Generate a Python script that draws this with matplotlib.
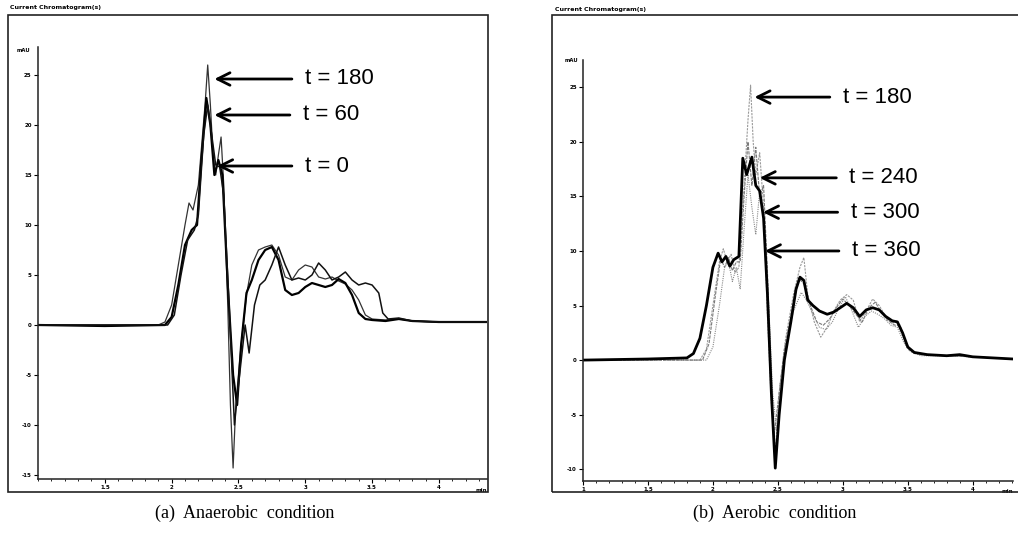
import matplotlib
matplotlib.use("Agg")
import matplotlib.pyplot as plt
from matplotlib.patches import Rectangle
from matplotlib.ticker import MultipleLocator

# ---- data (time in min, signal in mAU) ----
# (a) anaerobic condition
a_t180_x = [1.0, 1.5, 1.9, 1.95, 2.0, 2.05, 2.1, 2.13, 2.16, 2.2, 2.25, 2.27, 2.29, 2.31, 2.33,
            2.35, 2.37, 2.39, 2.42, 2.44, 2.46, 2.48, 2.52, 2.56, 2.6, 2.65, 2.7, 2.75, 2.8,
            2.85, 2.9, 2.95, 3.0, 3.05, 3.1, 3.15, 3.2, 3.25, 3.3, 3.35, 3.4, 3.45, 3.5, 3.6,
            3.7, 3.8, 4.0, 4.36]
a_t180_y = [0, 0, 0, 0.3, 2, 6, 10, 12.2, 11.5, 14, 22, 26, 22, 17, 15,
            17, 18.8, 14, 2, -8, -14.3, -8, -2, 3, 6, 7.5, 7.8, 8, 7,
            4.8, 4.5, 5.5, 6, 5.8, 4.8, 4.6, 4.8, 4.4, 4.1, 3.5, 2.5, 1.0, 0.6, 0.5,
            0.6, 0.4, 0.3, 0.3]
a_t60_x = [1.0, 1.5, 1.95, 2.0, 2.05, 2.1, 2.15, 2.19, 2.22, 2.26, 2.29, 2.32, 2.35, 2.38, 2.42,
           2.46, 2.49, 2.52, 2.56, 2.6, 2.65, 2.7, 2.75, 2.8, 2.85, 2.9, 2.95, 3.0, 3.05,
           3.1, 3.15, 3.2, 3.25, 3.3, 3.35, 3.4, 3.45, 3.5, 3.6, 3.7, 3.8, 4.0, 4.36]
a_t60_y = [0, -0.1, 0, 0.8, 4, 8, 9.5, 10, 16, 22.7, 20, 15, 16.5, 15, 4,
           -5, -8, -2, 3.2, 4.5, 6.5, 7.5, 7.8, 6.5, 3.5, 3.0, 3.2, 3.8, 4.2,
           4.0, 3.8, 4.0, 4.6, 4.2, 3.0, 1.2, 0.6, 0.5, 0.4, 0.6, 0.4, 0.3, 0.3]
a_t0_x = [1.0, 1.5, 1.97, 2.02, 2.07, 2.12, 2.17, 2.2, 2.24, 2.27, 2.3, 2.33, 2.36, 2.39, 2.43,
          2.47, 2.5, 2.55, 2.58, 2.62, 2.66, 2.7, 2.75, 2.8, 2.85, 2.9, 2.95, 3.0, 3.05,
          3.1, 3.15, 3.2, 3.25, 3.3, 3.35, 3.4, 3.45, 3.5, 3.55, 3.58, 3.62, 3.7, 3.8, 4.0, 4.36]
a_t0_y = [0, 0, 0, 1, 5, 8.5, 9.5, 11, 19, 22, 19, 16, 15.8, 13, 2,
          -10, -6, 0, -2.8, 2, 4, 4.5, 6, 7.8, 6, 4.5, 4.7, 4.5, 5.0,
          6.2, 5.5, 4.5, 4.8, 5.3, 4.5, 4.0, 4.2, 4.0, 3.2, 1.2, 0.6, 0.7, 0.4, 0.3, 0.3]

# (b) aerobic condition
b_t360_x = [1.0, 1.5, 1.8, 1.85, 1.9, 1.95, 2.0, 2.04, 2.07, 2.1, 2.13, 2.16, 2.2, 2.23, 2.26,
            2.3, 2.33, 2.36, 2.39, 2.42, 2.45, 2.48, 2.51, 2.55, 2.6, 2.64, 2.67, 2.7, 2.73,
            2.77, 2.82, 2.88, 2.93, 2.98, 3.03, 3.08, 3.13, 3.18, 3.23, 3.28, 3.33, 3.38,
            3.42, 3.46, 3.5, 3.55, 3.65, 3.8, 3.9, 4.0, 4.31]
b_t360_y = [0, 0.1, 0.2, 0.6, 2, 5, 8.5, 9.8, 9.0, 9.5, 8.6, 9.2, 9.5, 18.5, 17,
            18.6, 16, 15.5, 13, 6, -3, -9.9, -5, 0, 3.5, 6.5, 7.6, 7.3, 5.5,
            5.0, 4.5, 4.2, 4.4, 4.8, 5.2, 4.8, 4.0, 4.6, 4.8, 4.6, 4.0, 3.6,
            3.5, 2.5, 1.2, 0.7, 0.5, 0.4, 0.5, 0.3, 0.1]
b_t180_x = [1.0, 1.9, 1.95, 2.0, 2.05, 2.08, 2.11, 2.14, 2.17, 2.2, 2.24, 2.27, 2.29, 2.31, 2.33,
            2.36, 2.39, 2.42, 2.45, 2.48, 2.51, 2.56, 2.62, 2.67, 2.7, 2.73, 2.78, 2.83, 2.88,
            2.93, 2.98, 3.03, 3.08, 3.13, 3.18, 3.23, 3.28, 3.33, 3.38, 3.42, 3.46, 3.5, 3.55,
            3.65, 3.8, 4.0, 4.31]
b_t180_y = [0, 0, 1, 5, 9, 10.2, 9, 9.7, 8, 8.5, 16, 22, 25.2, 20, 17,
            19, 14, 4, -4, -8.5, -3, 2, 6, 8.5, 9.4, 6, 3.5, 2.1, 3.0,
            4.5, 5.5, 6.0, 5.5, 3.5, 4.5, 5.6, 5.0, 4.0, 3.4, 3.6, 2.2, 1.0, 0.6,
            0.5, 0.4, 0.3, 0.1]
b_t240_x = [1.0, 1.92, 1.97, 2.02, 2.06, 2.09, 2.12, 2.15, 2.18, 2.21, 2.24, 2.27, 2.3, 2.33, 2.36,
            2.39, 2.42, 2.45, 2.47, 2.5, 2.55, 2.6, 2.66, 2.7, 2.75, 2.8, 2.85, 2.9, 2.95,
            3.0, 3.05, 3.1, 3.15, 3.2, 3.25, 3.3, 3.35, 3.4, 3.44, 3.48, 3.52, 3.6, 3.8, 4.0, 4.31]
b_t240_y = [0, 0, 1.5, 6, 9.3, 8.5, 9.4, 8.2, 9.0, 9.0, 15, 20, 16, 19.5, 15,
            16, 8, -2, -7, -4, 1, 4, 7.5, 7.0, 5.0, 3.5, 3.2, 3.8, 4.8,
            5.6, 5.0, 4.2, 3.5, 4.8, 5.3, 4.3, 3.6, 3.2, 3.2, 1.8, 0.9, 0.5, 0.4, 0.3, 0.1]
b_t300_x = [1.0, 1.95, 2.0, 2.05, 2.09, 2.12, 2.15, 2.18, 2.21, 2.24, 2.27, 2.3, 2.33, 2.36, 2.39,
            2.43, 2.46, 2.49, 2.52, 2.57, 2.62, 2.68, 2.72, 2.77, 2.82, 2.87, 2.92, 2.97, 3.02,
            3.07, 3.12, 3.17, 3.22, 3.27, 3.32, 3.37, 3.42, 3.47, 3.52, 3.6, 3.8, 4.0, 4.31]
b_t300_y = [0, 0, 1.2, 5, 8.5, 9.0, 7.2, 8.5, 6.5, 12, 17, 14, 11.5, 15.5, 13,
            5, -3, -6.5, -2, 2, 4.5, 6.2, 5.5, 4.2, 3.0, 2.8, 3.5, 4.8, 5.8,
            4.5, 3.0, 4.0, 4.5, 4.2, 3.8, 3.2, 3.0, 1.6, 0.8, 0.4, 0.4, 0.3, 0.1]

a_yticks = [25, 20, 15, 10, 5, 0, -5, -10, -15]
b_yticks = [25, 20, 15, 10, 5, 0, -5, -10]
a_xticks = [1.5, 2, 2.5, 3, 3.5, 4]
b_xticks = [1, 1.5, 2, 2.5, 3, 3.5, 4]

# labels, arrow tip (x, y) and arrow tail x for each annotation
a_labels = ["t = 180", "t = 60", "t = 0"]
a_tips = [(2.32, 24.6), (2.32, 21.0), (2.34, 15.9)]
a_tails = [2.9, 2.885, 2.9]
b_labels = ["t = 180", "t = 240", "t = 300", "t = 360"]
b_tips = [(2.32, 24.1), (2.36, 16.7), (2.385, 13.55), (2.4, 10.0)]
b_tails = [2.9, 2.95, 2.96, 2.97]

fig = plt.figure(figsize=(10.18, 5.36), dpi=100)
W, H = 1018.0, 536.0


def px_rect(x0, y0, x1, y1):
    # pixel box (top-left origin) -> figure fraction [left, bottom, width, height]
    return [x0 / W, 1 - y1 / H, (x1 - x0) / W, (y1 - y0) / H]


def panel(rect, frame, xlim, ylim, xticks, yticks, title_xy, mau_xy):
    fig.patches.append(Rectangle(frame[:2], frame[2], frame[3], transform=fig.transFigure,
                                 fill=False, lw=1.2, ec="#222222"))
    fig.text(title_xy[0] / W, 1 - title_xy[1] / H, "Current Chromatogram(s)",
             fontsize=4.5, fontweight="bold", va="center")
    fig.text(mau_xy[0] / W, 1 - mau_xy[1] / H, "mAU", fontsize=3.8, fontweight="bold",
             va="center", ha="right")
    ax = fig.add_axes(rect)
    ax.set_xlim(*xlim)
    ax.set_ylim(*ylim)
    for s in ["top", "right"]:
        ax.spines[s].set_visible(False)
    for s in ["left", "bottom"]:
        ax.spines[s].set_linewidth(1.1)
        ax.spines[s].set_color("#222222")
    ax.set_xticks(xticks)
    ax.set_xticklabels([("%g" % v) for v in xticks], fontsize=4, fontweight="bold")
    ax.set_yticks(yticks)
    ax.set_yticklabels([("%g" % v) for v in yticks], fontsize=4, fontweight="bold")
    ax.xaxis.set_minor_locator(MultipleLocator(0.1))
    ax.tick_params(axis="both", which="major", length=3, width=0.8, pad=1.5)
    ax.tick_params(axis="x", which="minor", length=1.5, width=0.6)
    ax.text(1.0, -0.02, "min", transform=ax.transAxes, fontsize=4, fontweight="bold",
            ha="right", va="top")
    ax.patch.set_alpha(0)
    return ax


ax1 = panel(px_rect(38, 47, 487, 479), px_rect(8, 15, 488, 492), (1.0, 4.36), (-15.4, 27.8),
            a_xticks, a_yticks, (10, 7), (30, 50))
ax1.plot(a_t180_x, a_t180_y, color="#333333", lw=0.9)
ax1.plot(a_t60_x, a_t60_y, color="black", lw=1.6)
ax1.plot(a_t0_x, a_t0_y, color="#111111", lw=1.1)

ax2 = panel(px_rect(583, 60, 1013, 481), px_rect(552, 15, 1020, 492), (1.0, 4.31), (-11.08, 27.5),
            b_xticks, b_yticks, (555, 10), (578, 60))
ax2.plot(b_t180_x, b_t180_y, color="#9a9a9a", lw=0.8, ls=(0, (2, 1)))
ax2.plot(b_t240_x, b_t240_y, color="#7a7a7a", lw=0.8, ls=(0, (3, 1)))
ax2.plot(b_t300_x, b_t300_y, color="#8a8a8a", lw=0.8, ls=(0, (1, 1)))
ax2.plot(b_t360_x, b_t360_y, color="black", lw=2.0)

for ax, labels, tips, tails in [(ax1, a_labels, a_tips, a_tails), (ax2, b_labels, b_tips, b_tails)]:
    for lab, tip, tail in zip(labels, tips, tails):
        ax.annotate("", xy=tip, xytext=(tail, tip[1]),
                    arrowprops=dict(arrowstyle="->,head_length=0.9,head_width=0.45",
                                    lw=2.0, color="black", shrinkA=0, shrinkB=0))
        ax.text(tail + 0.1, tip[1], lab, fontsize=16, va="center", ha="left",
                family="Liberation Sans")

fig.text(245 / W, 1 - 513 / H, "(a)  Anaerobic  condition", ha="center", va="center",
         fontsize=13, family="Liberation Serif")
fig.text(775 / W, 1 - 513 / H, "(b)  Aerobic  condition", ha="center", va="center",
         fontsize=13, family="Liberation Serif")

fig.savefig("out.png", dpi=100)
